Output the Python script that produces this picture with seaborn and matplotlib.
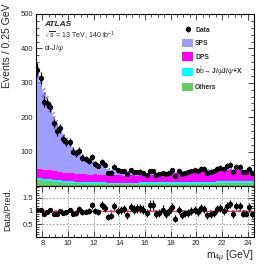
import numpy as np
import pandas as pd
import matplotlib
matplotlib.use("Agg")
import matplotlib.pyplot as plt
import seaborn as sns
from matplotlib.patches import Patch
from matplotlib.ticker import MultipleLocator

# m(4mu) bins of 0.25 GeV from 7.5 to 24.5 GeV
bin_lo = 7.5
bin_hi = 24.5
bin_w = 0.25

data_counts = [338, 315, 245, 241, 230, 182, 159, 168, 138, 129,
               129, 100, 95, 103, 83, 79, 73, 84, 65, 59,
               71, 62, 39, 39, 56, 46, 44, 44, 34, 47,
               41, 41, 42, 39, 32, 44, 44, 32, 34, 39,
               34, 39, 46, 29, 44, 36, 39, 41, 44, 47,
               44, 51, 51, 39, 42, 44, 51, 54, 49, 59,
               62, 42, 56, 56, 41, 41, 51, 39]

sps = [281, 253, 226, 202, 180, 161, 141, 124, 112, 98,
       88, 76, 68, 60, 52, 47, 41, 36, 31, 29,
       26, 23, 20, 18, 16, 14, 12, 11, 10, 9,
       8, 7, 6, 6, 5, 5, 4, 4, 4, 3,
       3, 3, 3, 3, 2, 2, 2, 2, 2, 2,
       2, 2, 2, 2, 2, 2, 2, 2, 2, 2,
       2, 2, 1, 1, 1, 1, 1, 1]

dps = [25, 26, 24, 25, 26, 24, 25, 25, 24, 24,
       23, 24, 23, 22, 23, 22, 21, 22, 23, 21,
       21, 22, 21, 20, 21, 22, 21, 20, 21, 22,
       21, 20, 21, 20, 19, 20, 21, 21, 22, 23,
       24, 25, 26, 27, 29, 30, 29, 30, 30, 31,
       31, 31, 32, 32, 33, 33, 32, 33, 33, 33,
       33, 32, 32, 32, 31, 31, 30, 30]

bbbar = [6, 6, 6, 6, 6, 6, 6, 6, 5, 5,
         5, 5, 5, 5, 5, 5, 5, 5, 5, 5,
         5, 5, 5, 5, 5, 5, 5, 5, 5, 5,
         5, 5, 5, 5, 5, 5, 5, 5, 5, 5,
         5, 5, 5, 5, 5, 5, 5, 5, 5, 5,
         6, 6, 6, 6, 6, 6, 6, 6, 6, 6,
         6, 6, 6, 6, 6, 6, 6, 6]

others = [18, 17, 16, 15, 14, 13, 12, 11, 10, 10,
          9, 9, 8, 8, 7, 7, 7, 6, 6, 6,
          6, 6, 5, 5, 5, 5, 5, 5, 5, 5,
          5, 5, 6, 6, 6, 6, 6, 6, 6, 6,
          6, 6, 6, 6, 6, 6, 7, 7, 7, 7,
          7, 7, 7, 7, 7, 7, 8, 8, 8, 8,
          8, 8, 8, 8, 8, 8, 8, 8]

rel_unc = 0.05

labels = ["SPS", "DPS", r"b$\bar{\mathrm{b}}$$\rightarrow$J/$\psi$J/$\psi$+X", "Others"]
colors = ["#9f9fff", "#ff00ff", "#00ffff", "#5fcf5f"]

edges = np.arange(bin_lo, bin_hi + bin_w / 2, bin_w)
centers = edges[:-1] + bin_w / 2

# long table for the stacked histogram
parts = [sps, dps, bbbar, others]
df = pd.concat([pd.DataFrame({"m": centers, "n": vals, "proc": lab})
                for vals, lab in zip(parts, labels)], ignore_index=True)

data = np.array(data_counts, dtype=float)
total = np.sum([np.array(p, dtype=float) for p in parts], axis=0)

sns.set_style("ticks")
plt.rcParams["font.family"] = ["Liberation Sans", "DejaVu Sans"]
plt.rcParams["mathtext.fontset"] = "custom"
plt.rcParams["mathtext.rm"] = "Liberation Sans"
plt.rcParams["mathtext.it"] = "Liberation Sans:italic"
plt.rcParams["mathtext.bf"] = "Liberation Sans:bold"
plt.rcParams["hatch.linewidth"] = 0.5

fig = plt.figure(figsize=(2.74, 2.64), dpi=100)
ax = fig.add_axes([0.131, 0.295, 0.796, 0.652])
rax = fig.add_axes([0.131, 0.102, 0.796, 0.193], sharex=ax)

sns.histplot(data=df, x="m", weights="n", hue="proc", hue_order=labels,
             palette=colors, multiple="stack", bins=edges.tolist(), element="step",
             fill=True, alpha=1, linewidth=0, legend=False, ax=ax)

# uncertainty band on prediction
lo = np.append(total * (1 - rel_unc), total[-1] * (1 - rel_unc))
hi = np.append(total * (1 + rel_unc), total[-1] * (1 + rel_unc))
ax.fill_between(edges, lo, hi, step="post", facecolor="none",
                edgecolor="#3434ff", hatch="//////", linewidth=0)

err = ax.errorbar(centers, data, yerr=np.sqrt(data), fmt="o", color="black",
                  ms=2.8, elinewidth=0.9, capsize=0)

ax.set_xlim(bin_lo, bin_hi)
ax.set_ylim(0, 500)
ax.set_yticks([100, 200, 300, 400, 500])
ax.yaxis.set_minor_locator(MultipleLocator(20))
ax.xaxis.set_minor_locator(MultipleLocator(0.5))
ax.set_xlabel("")
ax.set_ylabel("Events / 0.25 GeV", loc="top", fontsize=7.5)
ax.yaxis.set_label_coords(-0.11, 1.06)
ax.tick_params(labelbottom=False)

ax.text(0.037, 0.94, "ATLAS", transform=ax.transAxes, fontsize=6,
        fontweight="bold", fontstyle="italic", va="center")
ax.text(0.037, 0.87, r"$\sqrt{s}$ = 13 TeV, 140 fb$^{-1}$", transform=ax.transAxes,
        fontsize=5, va="center")
ax.text(0.037, 0.80, r"di-J/$\psi$", transform=ax.transAxes, fontsize=5, va="center")

handles = [err] + [Patch(facecolor=c, edgecolor="none") for c in colors]
ax.legend(handles, ["Data"] + labels, loc="upper left", bbox_to_anchor=(0.655, 0.95),
          frameon=False, borderpad=0, handlelength=1.65,
          handleheight=1.5, labelspacing=0.75, handletextpad=0.3,
          prop={"weight": "bold", "size": 4.8})

# ratio panel
ratio = data / total
rerr = np.sqrt(data) / total
rlo = np.append(np.full(len(total), 1 - rel_unc), 1 - rel_unc)
rhi = np.append(np.full(len(total), 1 + rel_unc), 1 + rel_unc)
rax.fill_between(edges, rlo, rhi, step="post", facecolor="none",
                 edgecolor="#4848ff", hatch="xxxxxx", linewidth=0)
rax.axhline(1, color="#ff3030", lw=0.9)
rax.errorbar(centers, ratio, yerr=rerr, fmt="o", color="black",
             ms=2.8, elinewidth=0.9, capsize=0)
rax.set_ylim(0, 1.95)
rax.set_yticks([0.5, 1, 1.5])
rax.set_yticklabels(["0.5", "1", "1.5"])
rax.yaxis.set_minor_locator(MultipleLocator(0.1))
rax.set_xticks(np.arange(8, 25, 2))
rax.grid(True, which="major", color="#909090", linestyle=(0, (2, 2)), linewidth=0.6)
rax.set_xlabel(r"m$_{4\mu}$ [GeV]", loc="right", fontsize=7.5)
rax.xaxis.set_label_coords(1.0, -0.22)
rax.set_ylabel("Data/Pred.", fontsize=6.5)
rax.yaxis.set_label_coords(-0.11, 0.55)

for a in (ax, rax):
    a.tick_params(which="both", direction="in", top=True, right=True,
                  labelsize=5.5, width=0.6, pad=2)
    a.tick_params(which="major", length=4.5)
    a.tick_params(which="minor", length=2.2)
    for s in a.spines.values():
        s.set_linewidth(0.8)
        s.set_color("black")

fig.savefig("out.png", dpi=100)
